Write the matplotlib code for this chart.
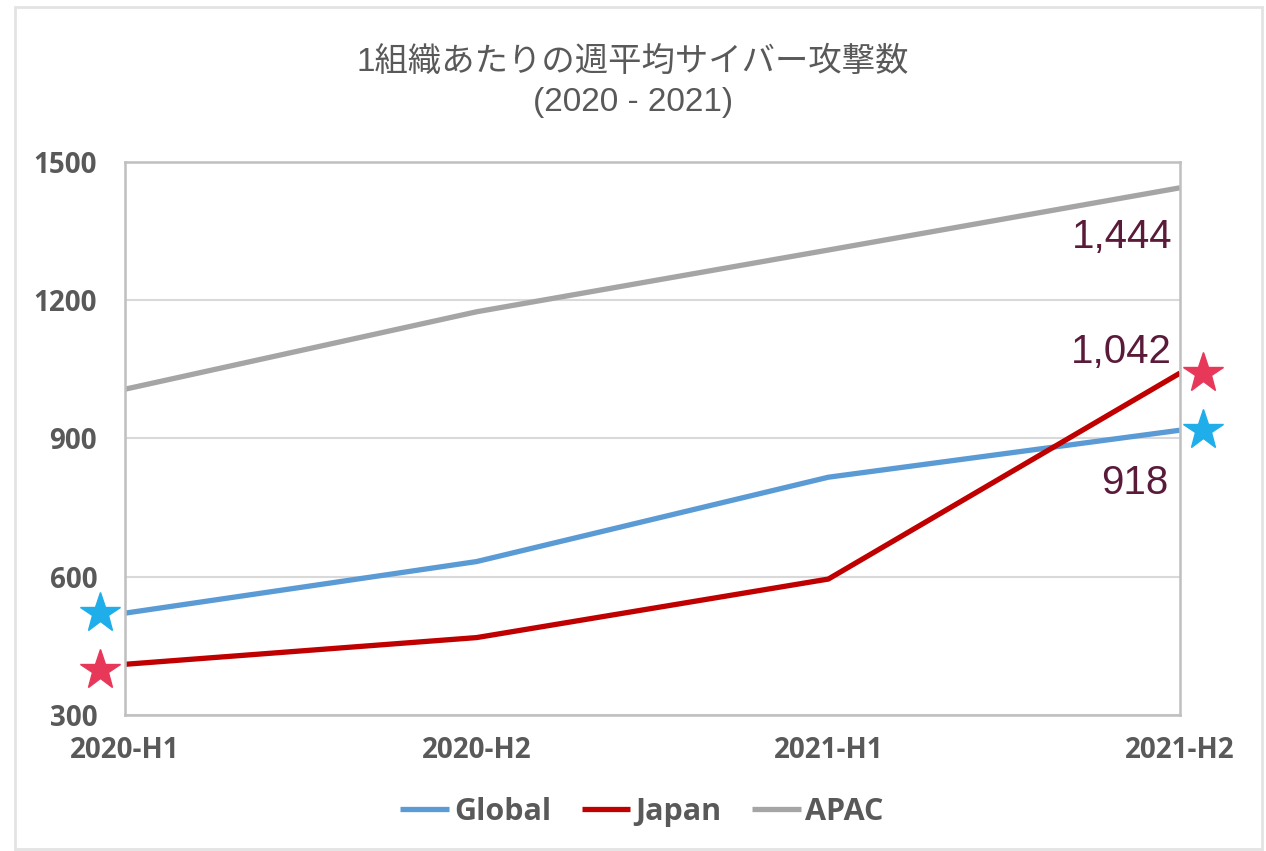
import matplotlib
matplotlib.use("Agg")
import matplotlib.pyplot as plt
from matplotlib.patches import Rectangle

periods = ["2020-H1", "2020-H2", "2021-H1", "2021-H2"]
global_vals = [521, 633, 816, 918]
japan_vals = [410, 468, 595, 1042]
apac_vals = [1007, 1175, 1309, 1444]
yticks = [300, 600, 900, 1200, 1500]

blue = "#5B9BD5"
red = "#C00000"
grey = "#A5A5A5"
txt = "#595959"
label_col = "#5A1A3A"

fig = plt.figure(figsize=(12.66, 8.51), dpi=100)
fig.patch.set_facecolor("white")
fig.patches.append(Rectangle((15/1266, 2/851), 1247/1266, 842/851, transform=fig.transFigure,
                             fill=False, edgecolor="#E3E3E3", linewidth=2))

ax = fig.add_axes([125/1266, 1-715/851, 1055/1266, 553/851])
x = list(range(len(periods)))
ax.plot(x, global_vals, color=blue, lw=3.8, label="Global", solid_capstyle="butt")
ax.plot(x, japan_vals, color=red, lw=3.8, label="Japan", solid_capstyle="butt")
ax.plot(x, apac_vals, color=grey, lw=3.8, label="APAC", solid_capstyle="butt")

ax.set_xlim(0, 3)
ax.set_ylim(300, 1500)
ax.set_yticks(yticks)
ax.set_xticks(x)
ax.set_xticklabels(periods)
ax.grid(axis="y", color="#D9D9D9", lw=1.5)
ax.set_axisbelow(True)
for s in ax.spines.values():
    s.set_color("#BFBFBF")
    s.set_linewidth(1.8)
ax.tick_params(length=0, labelsize=20, labelcolor=txt)
ax.tick_params(axis="y", pad=20)
ax.tick_params(axis="x", pad=15)
for lab in ax.get_xticklabels() + ax.get_yticklabels():
    lab.set_fontfamily("Open Sans")
    lab.set_fontweight("bold")

# end value labels
lab_font = dict(fontsize=29, color=label_col, family="Liberation Sans", ha="right", va="center")
ax.annotate("1,444", (3, apac_vals[3]), xytext=(-8, -49), textcoords="offset pixels", **lab_font)
ax.annotate("1,042", (3, japan_vals[3]), xytext=(-8, 21), textcoords="offset pixels", **lab_font)
ax.annotate("918", (3, global_vals[3]), xytext=(-12, -53), textcoords="offset pixels", **lab_font)

# star markers
ax.plot([3.066], [japan_vals[3]], marker="*", ms=30, color="#E8385A", clip_on=False, ls="none")
ax.plot([3.066], [global_vals[3]], marker="*", ms=30, color="#1FAEEA", clip_on=False, ls="none")
ax.plot([-0.071], [global_vals[0]], marker="*", ms=30, color="#1FAEEA", clip_on=False, ls="none")
ax.plot([-0.071], [japan_vals[0] - 12], marker="*", ms=30, color="#E8385A", clip_on=False, ls="none")

fig.text(0.5, 1-62/851, "1組織あたりの週平均サイバー攻撃数", ha="center", va="center",
         fontsize=24, color=txt, family=["Liberation Sans", "Noto Sans CJK JP"])
fig.text(0.5, 1-103/851, "(2020 - 2021)", ha="center", va="center",
         fontsize=24, color=txt, family="Liberation Sans")

leg = fig.legend(loc="center", bbox_to_anchor=(642/1266, 1-812/851), ncol=3, frameon=False,
                 handlelength=1.6, handletextpad=0.15, columnspacing=1.0,
                 prop={"family": "Open Sans", "weight": "bold", "size": 22})
for t in leg.get_texts():
    t.set_color(txt)

fig.savefig("out.png", dpi=100)
